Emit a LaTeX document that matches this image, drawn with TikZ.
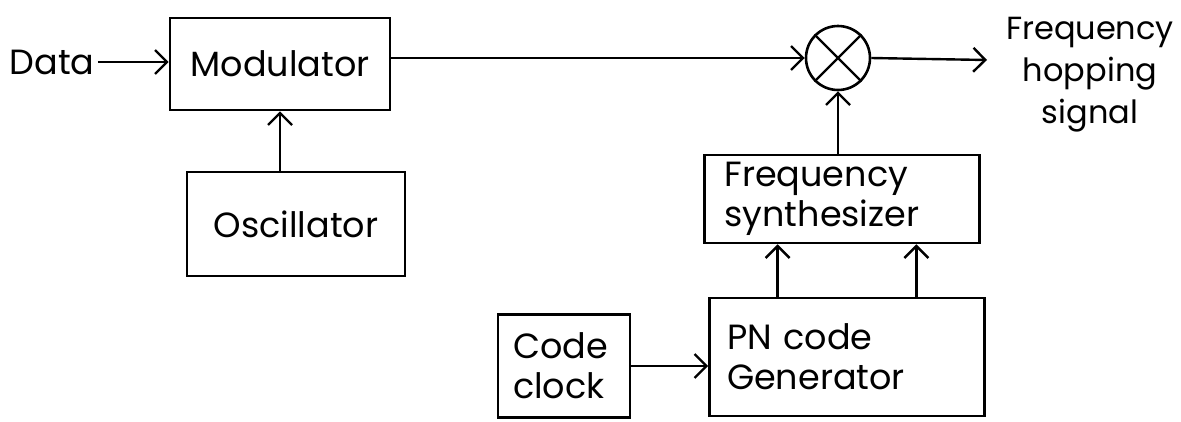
\documentclass[tikz,border=0pt]{standalone}
\usepackage{fontspec}
\setmainfont{Poppins}
\usetikzlibrary{arrows.meta,calc}
\begin{document}
\begin{tikzpicture}[x=1pt,y=-1pt,
  every node/.style={font=\fontsize{35}{40}\selectfont},
  blk/.style={draw,line width=2.6pt,rectangle,inner sep=0pt,align=left},
  arr/.style={line width=2.4pt,-{Straight Barb[length=12pt,width=24pt,line width=2.4pt]}},
  wire/.style={line width=2.4pt}]
\useasboundingbox (0,0) rectangle (1181,421);

% blocks
\node[blk,minimum width=220,minimum height=92] (mod) at (280,64) {Modulator};
\node[blk,minimum width=218,minimum height=104] (osc) at (296,224) {Oscillator};
\node[draw,line width=2.6pt,circle,minimum size=64,inner sep=0pt] (mix) at (838,58) {};
\draw[wire] (mix.north west) -- (mix.south east);
\draw[wire] (mix.north east) -- (mix.south west);
\node[blk,minimum width=275,minimum height=88,text width=235] (syn) at (842,199) {Frequency\\synthesizer};
\node[blk,minimum width=275,minimum height=118,text width=240] (pn) at (847,357) {PN code\\Generator};
\node[blk,minimum width=132,minimum height=103,text width=102] (clk) at (564,366) {Code\\clock};

% free labels
\node (data) at (52,62) {Data};
\node[align=center,font=\fontsize{32}{42}\selectfont] (out) at (1090,75) {Frequency\\hopping\\signal};
\coordinate (outend) at (987,60);

% connectors
\draw[arr] (data.east) -- (mod.west |- data.east);
\draw[arr] (osc.north -| mod.south) -- (mod.south);
\draw[arr] (mod.east |- mix.west) -- (mix.west);
\draw[arr] (mix.east) -- (outend);
\draw[arr] (syn.north -| mix.south) -- (mix.south);
\draw[arr] ($(pn.north west)!0.25!(pn.north east)$) coordinate (p1) -- (p1 |- syn.south);
\draw[arr] ($(pn.north west)!0.75!(pn.north east)$) coordinate (p2) -- (p2 |- syn.south);
\draw[arr] (clk.east) -- (clk.east -| pn.west);
\end{tikzpicture}
\end{document}
